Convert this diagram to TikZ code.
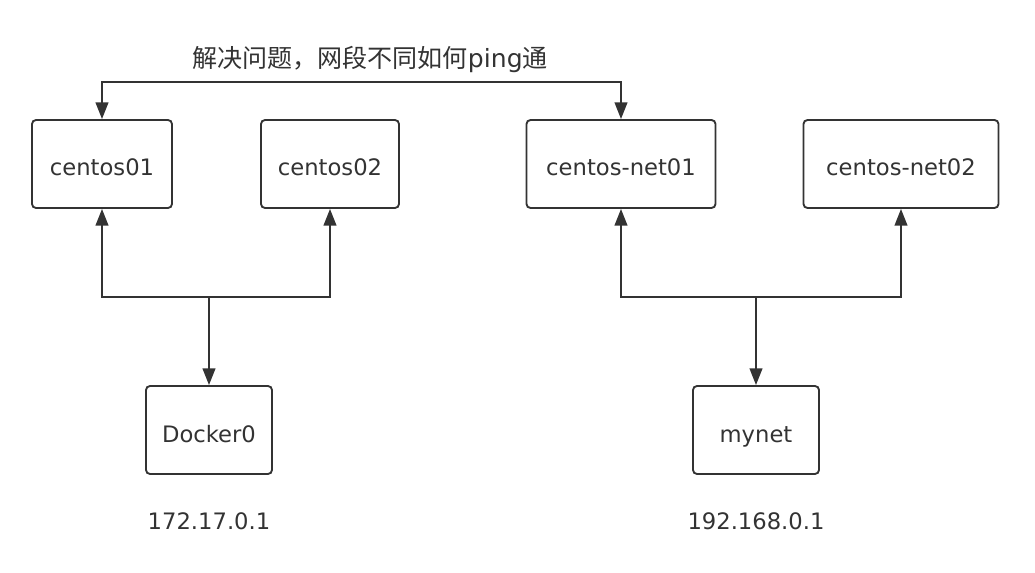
\documentclass[tikz,border=0pt]{standalone}
\usepackage{fontspec}
\setmainfont{DejaVu Sans}
\newfontfamily\cjk{Noto Sans CJK SC}
\usetikzlibrary{arrows.meta}
\definecolor{ink}{HTML}{333333}
\begin{document}
\begin{tikzpicture}[x=0.75pt,y=-0.75pt,
  box/.style={draw=ink,line width=1.4pt,rounded corners=3pt,minimum height=66pt,inner sep=0pt,
    text=ink,text height=18pt,text depth=0pt,font=\fontsize{17pt}{20pt}\selectfont},
  lbl/.style={text=ink,inner sep=0pt,font=\fontsize{17pt}{20pt}\selectfont},
  ttl/.style={text=ink,inner sep=0pt,font=\fontsize{18.8pt}{22pt}\selectfont},
  conn/.style={draw=ink,line width=1.4pt,-{Triangle[length=12.5pt,width=9.5pt]}},
  conn2/.style={draw=ink,line width=1.4pt,{Triangle[length=12.5pt,width=9.5pt]}-{Triangle[length=12.5pt,width=9.5pt]}}]
\useasboundingbox (0,0) rectangle (1035,573);
\node[box,minimum width=105pt] (c01) at (102,164) {centos01};
\node[box,minimum width=103.5pt] (c02) at (330,164) {centos02};
\node[box,minimum width=141.75pt] (cn01) at (621,164) {centos-net01};
\node[box,minimum width=146.25pt] (cn02) at (901,164) {centos-net02};
\node[box,minimum width=94.5pt] (d0) at (209,430) {Docker0};
\node[box,minimum width=94.5pt] (mn) at (756,430) {mynet};
\node[ttl] (t) at (370,60) {{\cjk 解决问题，网段不同如何}ping{\cjk 通}};
\node[lbl] (ip1) at (209,521) {172.17.0.1};
\node[lbl] (ip2) at (756,521) {192.168.0.1};
\coordinate (top) at (0,82);
\coordinate (busL) at (209,297);
\coordinate (busR) at (756,297);
\draw[conn2] (c01.north) -- (c01.north |- top) -| (cn01.north);
\draw[conn2] (c01.south) -- (c01.south |- busL) -| (c02.south);
\draw[conn] (busL) -- (d0.north);
\draw[conn2] (cn01.south) -- (cn01.south |- busR) -| (cn02.south);
\draw[conn] (busR) -- (mn.north);
\end{tikzpicture}
\end{document}
